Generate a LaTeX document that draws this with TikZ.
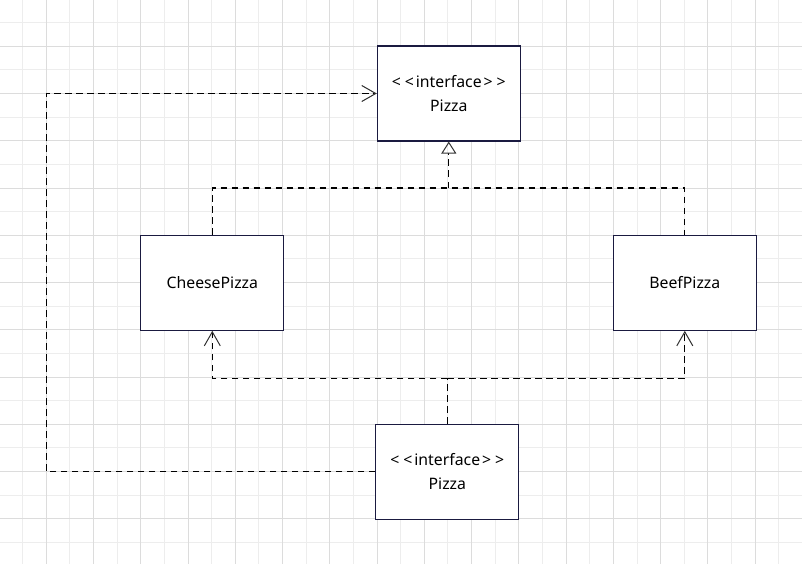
\documentclass[tikz,border=0pt]{standalone}
\usepackage{fontspec}
\setmainfont{Noto Sans}[Ligatures=TeXOff]
\usetikzlibrary{arrows.meta}
\definecolor{gridminor}{HTML}{EDEDED}
\definecolor{gridmajor}{HTML}{DCDCDC}
\definecolor{boxline}{HTML}{1A1A40}
\definecolor{tipgray}{HTML}{333333}
\newcommand{\ifacelabel}{<\kern4pt<\kern2pt interface\kern2pt>\kern4pt>}
\tikzset{
  cls/.style={draw=boxline, line width=1.1pt, fill=white, minimum width=143pt,
    minimum height=95pt, inner sep=0pt, align=center,
    font=\fontsize{15.8}{24}\selectfont},
  dep/.style={draw=black, line width=1.2pt, dash pattern=on 6.5pt off 4.5pt},
  realize/.style={-{Triangle[open, length=12pt, width=15pt, line width=1pt, color=tipgray]}},
  usearrow/.style={-{Straight Barb[length=14pt, width=16pt, line width=1pt, color=tipgray]}},
  gmin/.style={draw=gridminor, line width=1pt},
  gmaj/.style={draw=gridmajor, line width=1pt}
}
\begin{document}
\begin{tikzpicture}[x=1pt,y=-1pt]
\useasboundingbox (0,0) rectangle (802,564);
\fill[white] (0,0) rectangle (802,564);
% grid
\foreach \k in {1,3,...,33} \draw[gmin] ({-1+23.63*\k},0) -- ({-1+23.63*\k},564);
\foreach \k in {1,3,...,23} \draw[gmin] (0,{-1+23.63*\k}) -- (802,{-1+23.63*\k});
\foreach \k in {2,4,...,34} \draw[gmaj] ({-1+23.63*\k},0) -- ({-1+23.63*\k},564);
\foreach \k in {2,4,...,24} \draw[gmaj] (0,{-1+23.63*\k}) -- (802,{-1+23.63*\k});
% nodes
\node[cls] (pizzatop) at (448.8,93.5) {\ifacelabel\\Pizza};
\node[cls] (cheese) at (212.3,282.8) {CheesePizza};
\node[cls] (beef) at (684.8,282.8) {BeefPizza};
\node[cls] (pizzabot) at (447.3,471.7) {\ifacelabel\\Pizza};
\coordinate (j1) at (448.8,188);
\coordinate (j2) at (447.3,378.3);
\coordinate (c1) at (46.3,280);
% connectors
\draw[dep] (cheese.north) |- (j1) -| (beef.north);
\draw[dep, realize] (j1) -- (pizzatop.south);
\draw[dep] (pizzabot.north) -- (j2);
\draw[dep, usearrow] (j2) -| (cheese.south);
\draw[dep, usearrow] (j2) -| (beef.south);
\draw[dep, usearrow] (pizzabot.west) -| (c1) |- (pizzatop.west);
\end{tikzpicture}
\end{document}
